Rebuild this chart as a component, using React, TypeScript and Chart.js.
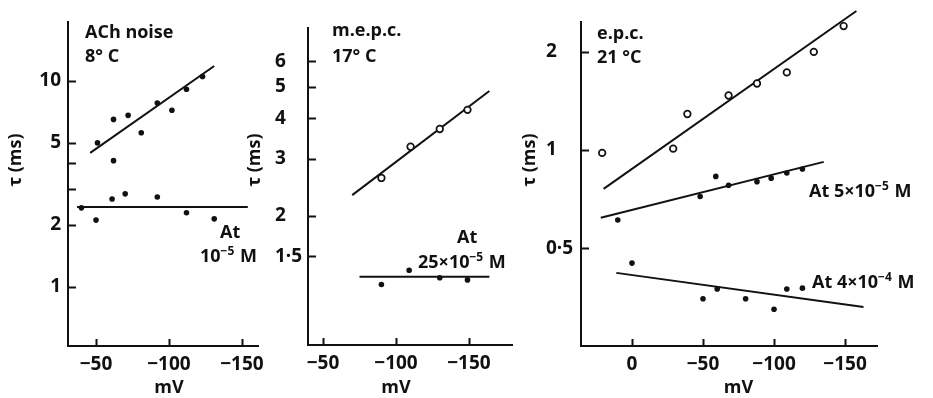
import React, { useEffect, useRef } from "react";
import { Chart, registerables } from "chart.js";

Chart.register(...registerables);

// ---- ACh noise, 8 °C ----
const achControlMv = [-51, -62, -72, -81, -62, -92, -102, -112, -123];
const achControlTau = [5.0, 6.5, 6.8, 5.6, 4.1, 7.8, 7.2, 9.1, 10.5];
const achControlFitMv = [-46, -131];
const achControlFitTau = [4.47, 11.8];
const achDrugMv = [-40, -50, -61, -70, -92, -112, -131];
const achDrugTau = [2.42, 2.11, 2.67, 2.83, 2.73, 2.29, 2.14];
const achDrugFitMv = [-37, -154];
const achDrugFitTau = [2.44, 2.44];
const achYTicks = [1, 2, 3, 4, 5, 10];
const achYLabels = ["1", "2", "", "", "5", "10"];
const achXTicks = [-50, -100, -150];

// ---- m.e.p.c., 17 °C ----
const mepcControlMv = [-90, -110, -130, -149];
const mepcControlTau = [2.62, 3.27, 3.71, 4.25];
const mepcControlFitMv = [-70, -164];
const mepcControlFitTau = [2.32, 4.86];
const mepcDrugMv = [-90, -109, -130, -149];
const mepcDrugTau = [1.23, 1.36, 1.29, 1.27];
const mepcDrugFitMv = [-75, -164];
const mepcDrugFitTau = [1.3, 1.3];
const mepcYTicks = [1.5, 2, 3, 4, 5, 6];
const mepcYLabels = ["1·5", "2", "3", "4", "5", "6"];
const mepcXTicks = [-50, -100, -150];

// ---- e.p.c., 21 °C ----
const epcControlMv = [21, -29, -39, -68, -88, -109, -128, -149];
const epcControlTau = [0.98, 1.01, 1.29, 1.47, 1.6, 1.73, 2.0, 2.4];
const epcControlFitMv = [20, -158];
const epcControlFitTau = [0.76, 2.67];
const epcLowMv = [10, -48, -59, -68, -88, -98, -109, -120];
const epcLowTau = [0.61, 0.72, 0.83, 0.78, 0.8, 0.82, 0.85, 0.875];
const epcLowFitMv = [22, -135];
const epcLowFitTau = [0.62, 0.92];
const epcHighMv = [0, -50, -60, -80, -100, -109, -120];
const epcHighTau = [0.45, 0.35, 0.375, 0.35, 0.325, 0.375, 0.377];
const epcHighFitMv = [11, -163];
const epcHighFitTau = [0.42, 0.33];
const epcYTicks = [0.5, 1, 2];
const epcYLabels = ["0·5", "1", "2"];
const epcXTicks = [0, -50, -100, -150];

const FONT = "'Open Sans', 'DejaVu Sans', sans-serif";
const INK = "#111";
const TEXT_SIZE = 18;
const TICK_SIZE = 19;

type Part = [string, boolean?];
type Note = { x: number; y: number; parts: Part[] };

type Series = {
  xs: number[];
  ys: number[];
  kind: "open" | "dot" | "fit";
};

type PanelSpec = {
  left: number;
  width: number;
  padLeft: number;
  padRight: number;
  padTop: number;
  yAxisWidth: number;
  xAxisHeight: number;
  yAlign: "near" | "far";
  xMin: number;
  xMax: number;
  xTicks: number[];
  yMin: number;
  yMax: number;
  yTicks: number[];
  yLabels: string[];
  series: Series[];
  notes: Note[];
  yTitle: [number, number];
  mvAt: number;
};

const toPoints = (xs: number[], ys: number[]) => xs.map((x, i) => ({ x, y: ys[i] }));

const mvLabel = (v: number) => (v === 0 ? "0" : "−" + Math.abs(v));

const panels: PanelSpec[] = [
  {
    left: 0,
    width: 280,
    padLeft: 0,
    padRight: 22,
    padTop: 22,
    yAxisWidth: 68,
    xAxisHeight: 52,
    yAlign: "near",
    xMin: -161,
    xMax: -30.8,
    xTicks: achXTicks,
    yMin: 0.517,
    yMax: 19.3,
    yTicks: achYTicks,
    yLabels: achYLabels,
    series: [
      { xs: achControlMv, ys: achControlTau, kind: "dot" },
      { xs: achControlFitMv, ys: achControlFitTau, kind: "fit" },
      { xs: achDrugMv, ys: achDrugTau, kind: "dot" },
      { xs: achDrugFitMv, ys: achDrugFitTau, kind: "fit" },
    ],
    notes: [
      { x: 85, y: 38, parts: [["ACh noise"]] },
      { x: 85, y: 62, parts: [["8° C"]] },
      { x: 220, y: 238, parts: [["At"]] },
      { x: 200, y: 262, parts: [["10"], ["−5", true], [" M"]] },
    ],
    yTitle: [16, 160],
    mvAt: -100,
  },
  {
    left: 240,
    width: 280,
    padLeft: 35,
    padRight: 8,
    padTop: 28,
    yAxisWidth: 33,
    xAxisHeight: 53,
    yAlign: "far",
    xMin: -179.5,
    xMax: -39.7,
    xTicks: mepcXTicks,
    yMin: 0.8,
    yMax: 7.6,
    yTicks: mepcYTicks,
    yLabels: mepcYLabels,
    series: [
      { xs: mepcControlMv, ys: mepcControlTau, kind: "open" },
      { xs: mepcControlFitMv, ys: mepcControlFitTau, kind: "fit" },
      { xs: mepcDrugMv, ys: mepcDrugTau, kind: "dot" },
      { xs: mepcDrugFitMv, ys: mepcDrugFitTau, kind: "fit" },
    ],
    notes: [
      { x: 332, y: 36, parts: [["m.e.p.c."]] },
      { x: 332, y: 62, parts: [["17° C"]] },
      { x: 457, y: 243, parts: [["At"]] },
      { x: 418, y: 268, parts: [["25×10"], ["−5", true], [" M"]] },
    ],
    yTitle: [255, 160],
    mvAt: -100,
  },
  {
    left: 515,
    width: 418,
    padLeft: 31,
    padRight: 56,
    padTop: 22,
    yAxisWidth: 35,
    xAxisHeight: 52,
    yAlign: "far",
    xMin: -172.5,
    xMax: 35.9,
    xTicks: epcXTicks,
    yMin: 0.2506,
    yMax: 2.47,
    yTicks: epcYTicks,
    yLabels: epcYLabels,
    series: [
      { xs: epcControlMv, ys: epcControlTau, kind: "open" },
      { xs: epcControlFitMv, ys: epcControlFitTau, kind: "fit" },
      { xs: epcLowMv, ys: epcLowTau, kind: "dot" },
      { xs: epcLowFitMv, ys: epcLowFitTau, kind: "fit" },
      { xs: epcHighMv, ys: epcHighTau, kind: "dot" },
      { xs: epcHighFitMv, ys: epcHighFitTau, kind: "fit" },
    ],
    notes: [
      { x: 597, y: 39, parts: [["e.p.c."]] },
      { x: 597, y: 63, parts: [["21 °C"]] },
      { x: 809, y: 197, parts: [["At 5×10"], ["−5", true], [" M"]] },
      { x: 812, y: 288, parts: [["At 4×10"], ["−4", true], [" M"]] },
    ],
    yTitle: [530, 160],
    mvAt: -75,
  },
];

function drawParts(ctx: CanvasRenderingContext2D, x: number, y: number, parts: Part[]) {
  let cx = x;
  for (const [text, sup] of parts) {
    ctx.font = sup ? `bold 12px ${FONT}` : `bold ${TEXT_SIZE}px ${FONT}`;
    ctx.fillText(text, cx, sup ? y - 7 : y);
    cx += ctx.measureText(text).width + (sup ? 1 : 0);
  }
}

function makeDecor(spec: PanelSpec) {
  return {
    id: "decor",
    afterDraw(chart: Chart) {
      const ctx = chart.ctx;
      const ca = chart.chartArea;
      const xs = chart.scales.x;
      const ys = chart.scales.y;
      ctx.save();
      // inward tick marks
      ctx.strokeStyle = INK;
      ctx.lineWidth = 2;
      ctx.beginPath();
      for (const v of spec.yTicks) {
        const py = Math.round(ys.getPixelForValue(v)) + 0.5;
        ctx.moveTo(ca.left, py);
        ctx.lineTo(ca.left + 8, py);
      }
      for (const v of spec.xTicks) {
        const px = Math.round(xs.getPixelForValue(v)) + 0.5;
        ctx.moveTo(px, ca.bottom);
        ctx.lineTo(px, ca.bottom - 7);
      }
      ctx.stroke();

      ctx.fillStyle = INK;
      ctx.textAlign = "left";
      ctx.textBaseline = "alphabetic";
      for (const n of spec.notes) drawParts(ctx, n.x - spec.left, n.y, n.parts);

      // axis titles
      ctx.font = `bold ${TEXT_SIZE}px ${FONT}`;
      ctx.textAlign = "center";
      ctx.fillText("mV", xs.getPixelForValue(spec.mvAt), 393);
      ctx.translate(spec.yTitle[0] - spec.left, spec.yTitle[1]);
      ctx.rotate(-Math.PI / 2);
      ctx.textBaseline = "middle";
      ctx.fillText("τ (ms)", 0, 0);
      ctx.restore();
    },
  };
}

function Panel({ spec }: { spec: PanelSpec }) {
  const ref = useRef<HTMLCanvasElement | null>(null);

  useEffect(() => {
    if (!ref.current) return;
    const datasets = spec.series.map((s) => {
      const base: any = {
        data: toPoints(s.xs, s.ys),
        borderColor: INK,
        clip: false,
      };
      if (s.kind === "fit") {
        return { ...base, showLine: true, borderWidth: 2, pointRadius: 0, fill: false };
      }
      if (s.kind === "open") {
        return {
          ...base,
          showLine: false,
          pointRadius: 3.3,
          pointBorderWidth: 1.7,
          pointBackgroundColor: "#fff",
          pointBorderColor: INK,
        };
      }
      return {
        ...base,
        showLine: false,
        pointRadius: 2.8,
        pointBorderWidth: 0,
        pointBackgroundColor: INK,
      };
    });

    const chart = new Chart(ref.current, {
      type: "scatter",
      data: { datasets },
      plugins: [makeDecor(spec)],
      options: {
        animation: false,
        responsive: false,
        devicePixelRatio: 1,
        events: [],
        layout: {
          padding: { left: spec.padLeft, right: spec.padRight, top: spec.padTop, bottom: 0 },
        },
        plugins: {
          legend: { display: false },
          tooltip: { enabled: false },
        },
        scales: {
          x: {
            type: "linear",
            reverse: true,
            min: spec.xMin,
            max: spec.xMax,
            bounds: "data",
            grid: { display: false, drawTicks: false },
            border: { display: true, color: INK, width: 2 },
            afterBuildTicks: (s: any) => {
              s.ticks = spec.xTicks.map((value) => ({ value }));
            },
            afterFit: (s: any) => {
              s.height = spec.xAxisHeight;
            },
            ticks: {
              color: INK,
              padding: 7,
              maxRotation: 0,
              autoSkip: false,
              font: { family: FONT, size: TICK_SIZE, weight: "bold" },
              callback: (v: any) => mvLabel(Number(v)),
            },
          },
          y: {
            type: "logarithmic",
            min: spec.yMin,
            max: spec.yMax,
            bounds: "data",
            grid: { display: false, drawTicks: false },
            border: { display: true, color: INK, width: 2 },
            afterBuildTicks: (s: any) => {
              s.ticks = spec.yTicks.map((value) => ({ value }));
            },
            afterFit: (s: any) => {
              s.width = spec.yAxisWidth;
            },
            ticks: {
              color: INK,
              padding: 7,
              autoSkip: false,
              crossAlign: spec.yAlign,
              font: { family: FONT, size: TICK_SIZE, weight: "bold" },
              callback: (v: any) => {
                const i = spec.yTicks.indexOf(Number(v));
                return i >= 0 ? spec.yLabels[i] : "";
              },
            },
          },
        },
      } as any,
    });
    return () => chart.destroy();
  }, [spec]);

  return (
    <canvas
      ref={ref}
      width={spec.width}
      height={398}
      style={{ position: "absolute", left: spec.left, top: 0, width: spec.width, height: 398 }}
    />
  );
}

export default function App() {
  return (
    <div
      style={{
        position: "absolute",
        left: 0,
        top: 0,
        width: 933,
        height: 398,
        background: "#fff",
        overflow: "hidden",
      }}
    >
      {panels.map((p, i) => (
        <Panel key={i} spec={p} />
      ))}
    </div>
  );
}
